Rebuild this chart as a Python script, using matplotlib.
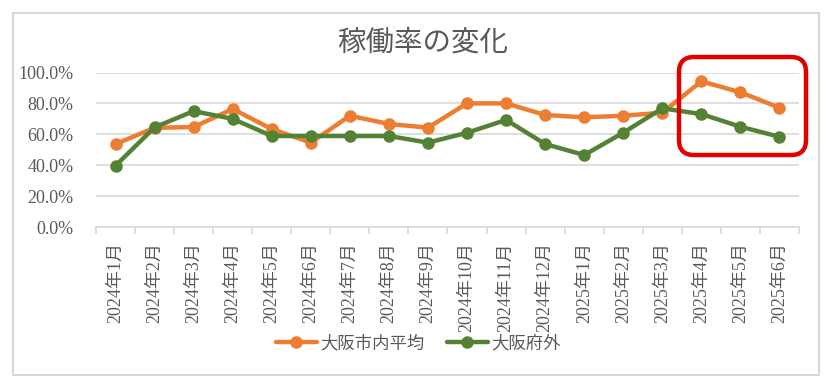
import matplotlib
matplotlib.use("Agg")
import matplotlib.pyplot as plt
from matplotlib.patches import Rectangle, FancyBboxPatch
from matplotlib.ticker import PercentFormatter, FixedLocator

plt.rcParams['font.family'] = ['Liberation Serif', 'Noto Sans CJK JP', 'DejaVu Sans']

months = ["2024年1月", "2024年2月", "2024年3月", "2024年4月", "2024年5月", "2024年6月",
          "2024年7月", "2024年8月", "2024年9月", "2024年10月", "2024年11月", "2024年12月",
          "2025年1月", "2025年2月", "2025年3月", "2025年4月", "2025年5月", "2025年6月"]
osaka_city = [0.537, 0.642, 0.647, 0.764, 0.634, 0.546, 0.720, 0.667, 0.643, 0.800, 0.800, 0.725,
              0.710, 0.720, 0.740, 0.943, 0.872, 0.772]
outside_osaka = [0.397, 0.645, 0.750, 0.700, 0.589, 0.589, 0.589, 0.589, 0.546, 0.610, 0.693, 0.537,
                 0.466, 0.610, 0.768, 0.731, 0.649, 0.584]
series_names = ["大阪市内平均", "大阪府外"]
title = "稼働率の変化"

TXT = "#595959"
GRID = "#D9D9D9"
ORANGE = "#ED7D31"
GREEN = "#548235"

W, H = 834, 387
fig = plt.figure(figsize=(W / 100, H / 100), dpi=100)

# chart border
fig.patches.append(Rectangle((13 / W, 1 - 375 / H), (819 - 13) / W, (375 - 13) / H,
                             transform=fig.transFigure, fill=False, edgecolor=GRID, linewidth=1.5))

ax = fig.add_axes([96 / W, 1 - 227 / H, (799 - 96) / W, (227 - 72.5) / H])
x = list(range(len(months)))
ax.plot(x, osaka_city, color=ORANGE, lw=3.2, marker='o', ms=8, label=series_names[0],
        solid_capstyle='round', zorder=3)
ax.plot(x, outside_osaka, color=GREEN, lw=3.2, marker='o', ms=8, label=series_names[1],
        solid_capstyle='round', zorder=4)

ax.set_xlim(-0.5, len(months) - 0.5)
ax.set_ylim(0, 1.0)
ax.set_yticks([0, 0.2, 0.4, 0.6, 0.8, 1.0])
ax.yaxis.set_major_formatter(PercentFormatter(1.0, decimals=1))
ax.grid(axis='y', color=GRID, lw=1.2)
ax.set_axisbelow(True)
for s in ['top', 'right', 'left']:
    ax.spines[s].set_visible(False)
ax.spines['bottom'].set_color(GRID)
ax.spines['bottom'].set_linewidth(1.2)

ax.set_xticks(x)
ax.set_xticklabels(months, rotation=90, fontsize=13, color=TXT)
ax.xaxis.set_minor_locator(FixedLocator([i - 0.5 for i in range(len(months) + 1)]))
ax.tick_params(axis='x', which='major', length=0, pad=11)
ax.tick_params(axis='x', which='minor', length=5, color=GRID, width=1.2)
ax.tick_params(axis='y', length=0, pad=16, labelsize=13, labelcolor=TXT)

fig.text(423 / W, 1 - 43 / H, title, ha='center', va='center', fontsize=20.5, color=TXT)

leg = fig.legend(loc='center', bbox_to_anchor=(418 / W, 1 - 344 / H), ncol=2, frameon=False,
                 fontsize=12.5, handlelength=2.4, handletextpad=0.15, columnspacing=1.3,
                 labelcolor=TXT)

# red highlight box
fig.patches.append(FancyBboxPatch((679 / W, 1 - 155 / H), (806 - 679) / W, (155 - 57) / H,
                                  boxstyle="round,pad=0,rounding_size=0.018",
                                  mutation_aspect=W / H, transform=fig.transFigure,
                                  fill=False, edgecolor="#E00000", linewidth=3.2, zorder=10))

fig.savefig("out.png", dpi=100)
